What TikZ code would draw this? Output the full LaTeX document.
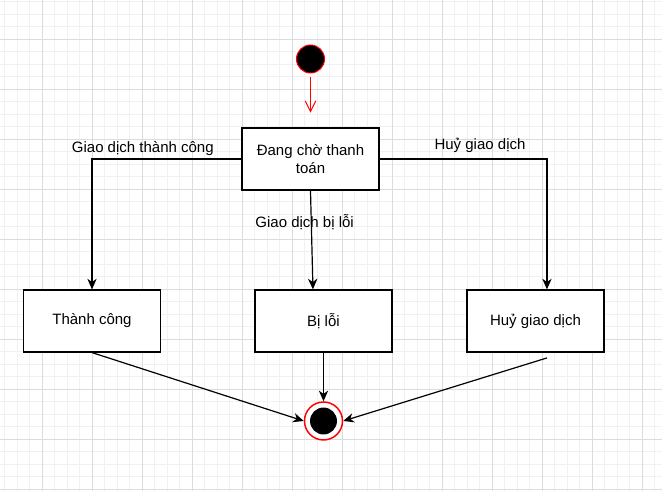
\documentclass[tikz,border=0pt]{standalone}
\usepackage{fontspec}
\setmainfont{Liberation Sans}
\usetikzlibrary{arrows.meta,calc,positioning}
\tikzset{>={Stealth[length=8pt,width=7pt,inset=2.5pt]}}
\definecolor{gridminor}{RGB}{241,241,241}
\definecolor{gridmajor}{RGB}{220,220,220}
\tikzstyle{state}   = [rectangle, black, draw, line width=0.9pt, fill=white, minimum width=102.75pt, minimum height=46.5pt, text centered, align=center]
\tikzstyle{initial} = [circle, draw=red, fill=black, line width=0.75pt, minimum size=21pt, inner sep=0pt]
\tikzstyle{final}   = [circle, draw=red, fill=white, line width=1.1pt, minimum size=28.5pt, inner sep=0pt,
                       path picture={\fill[black] (path picture bounding box.center) circle (10.1pt);}]
\tikzstyle{flow}    = [draw, black, line width=0.9pt, ->]
\tikzstyle{guard}   = [inner sep=2pt]

\begin{document}
\begin{tikzpicture}[x=0.75pt, y=-0.75pt, node distance=75pt, font=\fontsize{11.25}{13.5}\selectfont]
      \useasboundingbox (0,0) rectangle (662,491);
      \foreach \k in {0,...,52} \draw[gridminor, line width=0.7pt] ({4.8+12.5*\k},0) -- ({4.8+12.5*\k},491);
      \foreach \k in {0,...,39} \draw[gridminor, line width=0.7pt] (0,{1.8+12.5*\k}) -- (662,{1.8+12.5*\k});
      \foreach \k in {3,7,...,51} \draw[gridmajor, line width=0.7pt] ({4.8+12.5*\k},0) -- ({4.8+12.5*\k},491);
      \foreach \k in {3,7,...,39} \draw[gridmajor, line width=0.7pt] (0,{1.8+12.5*\k}) -- (662,{1.8+12.5*\k});

      \node[state] (wait) at (310.5,159) {Đang chờ thanh\\toán};
      \node[initial, above of=wait] (start) {};
      \node[state] (thanh) at (92,321) {Thành công};
      \node[state] (loi) at (323.5,321) {Bị lỗi};
      \node[state] (huy) at (535.5,321) {Huỷ giao dịch};
      \node[final, below of=loi] (end) {};

      \coordinate (redtail) at ([yshift=-3pt]start.south);
      \coordinate (redtip) at ([yshift=11pt]wait.north);
      \coordinate (huyout) at ([xshift=8.6pt,yshift=-4pt]huy.south);

      \draw[red, line width=0.75pt, -{Straight Barb[length=8pt,width=8pt]}] (redtail) -- (redtip);
      \draw[flow] (wait.west) -| node[guard, above, pos=0.33] (lblok) {Giao dịch thành công} (thanh.north);
      \draw[flow] (wait.east) -| node[guard, above, pos=0.3, yshift=2pt] (lblhuy) {Huỷ giao dịch} ([xshift=8.6pt]huy.north);
      \draw[flow] (wait.south) -- node[guard, pos=0.32, xshift=-5pt] (lblloi) {Giao dịch bị lỗi} ([xshift=-7.9pt]loi.north);
      \draw[flow] (thanh.south) -- (end.west);
      \draw[flow] (loi.south) -- (end.north);
      \draw[flow] (huyout) -- (end.east);
\end{tikzpicture}
\end{document}
